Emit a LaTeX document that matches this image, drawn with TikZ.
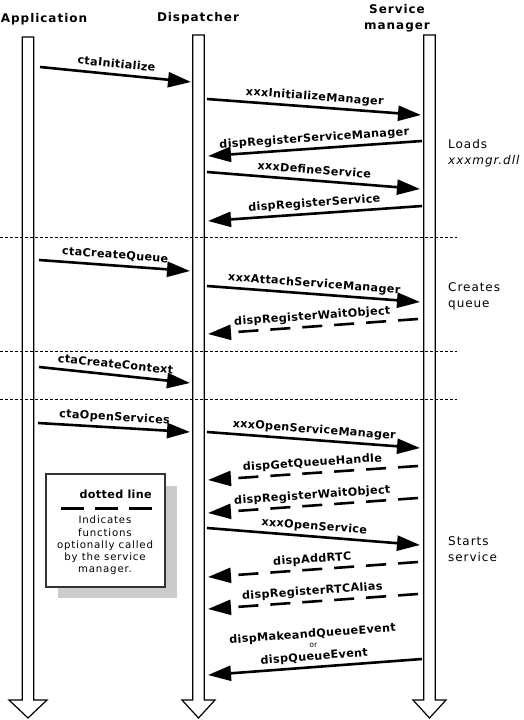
\documentclass[tikz,border=0pt]{standalone}
\usepackage{fontspec}
\setmainfont{DejaVu Sans}
\newfontfamily\headfont{DejaVu Sans}[LetterSpace=8]
\newfontfamily\callfont{DejaVu Sans}[LetterSpace=3]
\newfontfamily\notefont{DejaVu Sans}[LetterSpace=8]
\usetikzlibrary{arrows.meta}

\begin{document}
\begin{tikzpicture}[x=1pt, y=-1pt,
    lifeline/.style={draw=black, fill=white, line width=1.2pt},
    call/.style={line width=2.6pt, -{Triangle[length=23pt, width=15pt]}},
    optcall/.style={call, dash pattern=on 20pt off 12pt},
    callname/.style={font=\callfont\bfseries\fontsize{11.2}{10}\selectfont, sloped, above, inner sep=3pt, text depth=2.5pt},
    header/.style={font=\headfont\bfseries\fontsize{12}{16}\selectfont, align=center, inner sep=0pt},
    note/.style={font=\notefont\fontsize{12}{16}\selectfont, align=left, anchor=west, inner sep=0pt},
    section/.style={line width=0.9pt, dash pattern=on 3pt off 2pt}]

    \useasboundingbox (0,0) rectangle (524,720);

    % colours
    \definecolor{shadowgray}{RGB}{204,204,204}

    % headers
    \node[header] (app) at (44,19) {Application};
    \node[header] (disp) at (198,18) {Dispatcher};
    \node[header] (svc) at (397,18) {Service\\manager};

    % lifelines (centre / top / half width of the head)
    \foreach \x/\t/\h in {28/37/19, 198.5/35/16.5, 429.5/35/16.5}
        \filldraw[lifeline] (\x-5.8,\t) -- (\x+5.8,\t) -- (\x+5.8,700) -- (\x+\h,700)
            -- (\x,718) -- (\x-\h,700) -- (\x-5.8,700) -- cycle;

    % phases
    \draw[section] (0,237) -- (457,237);
    \draw[section] (0,351) -- (457,351);
    \draw[section] (0,399) -- (457,399);

    % end points of the calls
    \coordinate (ctaInit-s) at (40,67);       \coordinate (ctaInit-e) at (191,82);
    \coordinate (initMgr-s) at (207,99);      \coordinate (initMgr-e) at (421,115);
    \coordinate (regSvcMgr-s) at (422,141);   \coordinate (regSvcMgr-e) at (208,156);
    \coordinate (defSvc-s) at (207,172);      \coordinate (defSvc-e) at (420,189);
    \coordinate (regSvc-s) at (422,206);      \coordinate (regSvc-e) at (208,221);
    \coordinate (ctaQueue-s) at (39,260);     \coordinate (ctaQueue-e) at (190,271);
    \coordinate (attach-s) at (207,286);      \coordinate (attach-e) at (420,302);
    \coordinate (waitA-s) at (418,319);       \coordinate (waitA-e) at (208,334);
    \coordinate (ctaCtx-s) at (39,367);       \coordinate (ctaCtx-e) at (190,383);
    \coordinate (ctaOpen-s) at (38,423);      \coordinate (ctaOpen-e) at (190,432);
    \coordinate (openMgr-s) at (207,432);     \coordinate (openMgr-e) at (420,448);
    \coordinate (getQueue-s) at (418,466);    \coordinate (getQueue-e) at (208,480);
    \coordinate (waitB-s) at (418,498);       \coordinate (waitB-e) at (208,513);
    \coordinate (openSvc-s) at (207,528);     \coordinate (openSvc-e) at (420,545);
    \coordinate (addRTC-s) at (418,562);      \coordinate (addRTC-e) at (208,577);
    \coordinate (rtcAlias-s) at (418,594);    \coordinate (rtcAlias-e) at (208,609);
    \coordinate (queueEvt-s) at (422,659);    \coordinate (queueEvt-e) at (208,675);

    % calls
    \draw[call] (ctaInit-s) -- node[callname] (ctaInit) {ctaInitialize} (ctaInit-e);
    \draw[call] (initMgr-s) -- node[callname] (initMgr) {xxxInitializeManager} (initMgr-e);
    \draw[call] (regSvcMgr-s) -- node[callname] (regSvcMgr) {dispRegisterServiceManager} (regSvcMgr-e);
    \draw[call] (defSvc-s) -- node[callname] (defSvc) {xxxDefineService} (defSvc-e);
    \draw[call] (regSvc-s) -- node[callname] (regSvc) {dispRegisterService} (regSvc-e);
    \draw[call] (ctaQueue-s) -- node[callname] (ctaQueue) {ctaCreateQueue} (ctaQueue-e);
    \draw[call] (attach-s) -- node[callname] (attach) {xxxAttachServiceManager} (attach-e);
    \draw[optcall] (waitA-s) -- node[callname] (waitA) {dispRegisterWaitObject} (waitA-e);
    \draw[call] (ctaCtx-s) -- node[callname] (ctaCtx) {ctaCreateContext} (ctaCtx-e);
    \draw[call] (ctaOpen-s) -- node[callname] (ctaOpen) {ctaOpenServices} (ctaOpen-e);
    \draw[call] (openMgr-s) -- node[callname] (openMgr) {xxxOpenServiceManager} (openMgr-e);
    \draw[optcall] (getQueue-s) -- node[callname] (getQueue) {dispGetQueueHandle} (getQueue-e);
    \draw[optcall] (waitB-s) -- node[callname] (waitB) {dispRegisterWaitObject} (waitB-e);
    \draw[call] (openSvc-s) -- node[callname] (openSvc) {xxxOpenService} (openSvc-e);
    \draw[optcall] (addRTC-s) -- node[callname] (addRTC) {dispAddRTC} (addRTC-e);
    \draw[optcall] (rtcAlias-s) -- node[callname] (rtcAlias) {dispRegisterRTCAlias} (rtcAlias-e);
    \draw[call] (queueEvt-s) -- node[callname, align=center, inner sep=3pt, font=\callfont\bfseries\fontsize{11.2}{10}\selectfont] (queueEvt)
        {dispMakeandQueueEvent\\{\mdseries\fontsize{7.5}{7.5}\selectfont or}\\[2.8pt]dispQueueEvent} (queueEvt-e);

    % notes on the right
    \node[note] (loads) at (448,153) {Loads\\\textit{xxxmgr.dll}};
    \node[note] (creates) at (448,296) {Creates\\queue};
    \node[note] (starts) at (448,549) {Starts\\service};

    % legend
    \fill[shadowgray] (58,486) rectangle (177,598);
    \filldraw[fill=white, draw=black!80, line width=1.2pt] (46,474) rectangle (165,587);
    \node[anchor=east, inner sep=0pt, font=\callfont\bfseries\fontsize{11.2}{12}\selectfont] (legTitle) at (152,494) {dotted line};
    \coordinate (leg-s) at (61,508);
    \coordinate (leg-e) at (152,508);
    \draw[line width=3pt, dash pattern=on 23pt off 11pt] (leg-s) -- (leg-e);
    \node[align=center, inner sep=0pt, font=\notefont\fontsize{10.2}{12.3}\selectfont] (legText) at (105,545.5)
        {Indicates\\functions\\optionally called\\by the service\\manager.};

\end{tikzpicture}
\end{document}
